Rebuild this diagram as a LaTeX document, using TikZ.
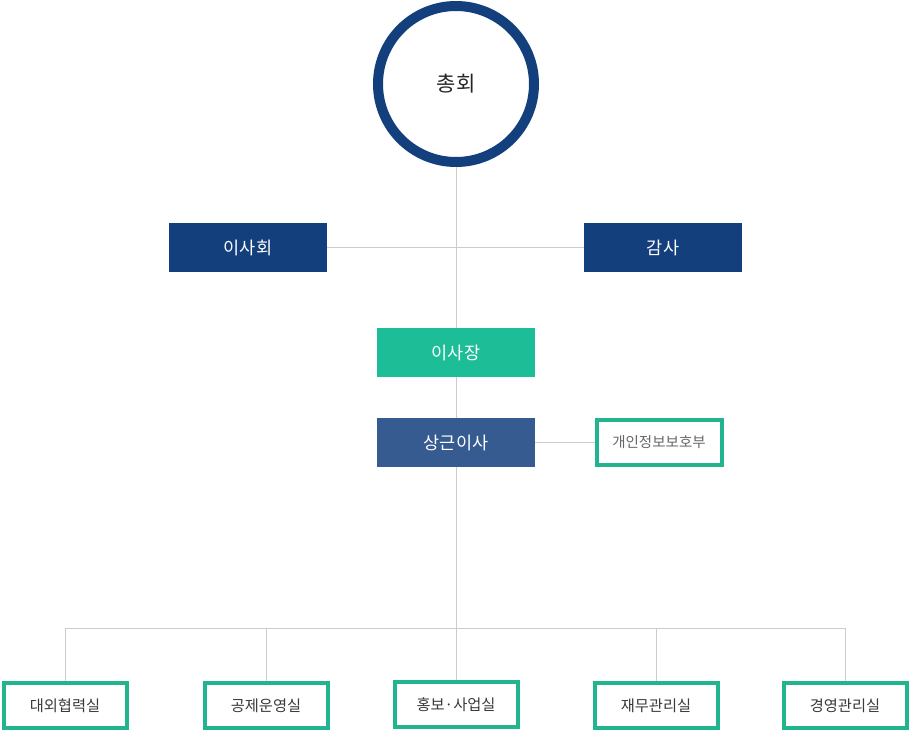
\documentclass[tikz,border=0pt]{standalone}
\usepackage{fontspec}
\newfontfamily\kr{Noto Sans CJK KR}
\definecolor{navy}{HTML}{133F7D}
\definecolor{teal}{HTML}{1DBD98}
\definecolor{midblue}{HTML}{365B91}
\definecolor{conn}{HTML}{CCCCCC}
\definecolor{boxgreen}{HTML}{22B48F}
\definecolor{txtgray}{HTML}{3A3A3A}
\begin{document}
\begin{tikzpicture}[x=1pt,y=-1pt,
  filledbox/.style={rectangle, inner sep=0pt, minimum width=158pt, minimum height=49pt, text=white, font=\kr\fontsize{17.5}{20}\selectfont},
  outlinebox/.style={rectangle, draw=boxgreen, line width=4pt, fill=white, inner sep=0pt, minimum width=123pt, minimum height=45pt, text=txtgray, font=\kr\fontsize{15.3}{18}\selectfont},
  connector/.style={draw=conn, line width=1pt}]
\useasboundingbox (0,0) rectangle (910,731);
\fill[white] (0,0) rectangle (910,731);
\coordinate (hub) at (456,628);
\coordinate (bl) at (65,628);
\coordinate (br) at (845,628);
\node[circle, draw=navy, line width=10pt, minimum size=156pt, inner sep=0pt, fill=white, font=\kr\fontsize{21}{24}\selectfont, text=black!85] (gm) at (456,84) {총회};
\node[filledbox, fill=navy] (board) at (248,247.5) {이사회};
\node[filledbox, fill=navy] (audit) at (663,247.5) {감사};
\node[filledbox, fill=teal] (chair) at (456,352.5) {이사장};
\node[filledbox, fill=midblue] (exec) at (456,442.5) {상근이사};
\node[outlinebox, minimum width=125pt, text=black!60, font=\kr\fontsize{14.5}{17}\selectfont] (priv) at (659,442.5) {개인정보보호부};
\node[outlinebox] (b1) at (65,705.5) {대외협력실};
\node[outlinebox] (b2) at (266,705.5) {공제운영실};
\node[outlinebox] (b3) at (456,704.5) {홍보·사업실};
\node[outlinebox] (b4) at (656,705.5) {재무관리실};
\node[outlinebox] (b5) at (845,705.5) {경영관리실};
\path[connector] (gm.south) -- (chair.north);
\path[connector] (board.east) -- (audit.west);
\path[connector] (chair.south) -- (exec.north);
\path[connector] (exec.south) -- (hub);
\path[connector] (exec.east) -- (priv.west);
\path[connector] (bl) -- (br);
\path[connector] (bl) -- (b1.north);
\path[connector] (b2.north |- hub) -- (b2.north);
\path[connector] (hub) -- (b3.north);
\path[connector] (b4.north |- hub) -- (b4.north);
\path[connector] (br) -- (b5.north);
\end{tikzpicture}
\end{document}
